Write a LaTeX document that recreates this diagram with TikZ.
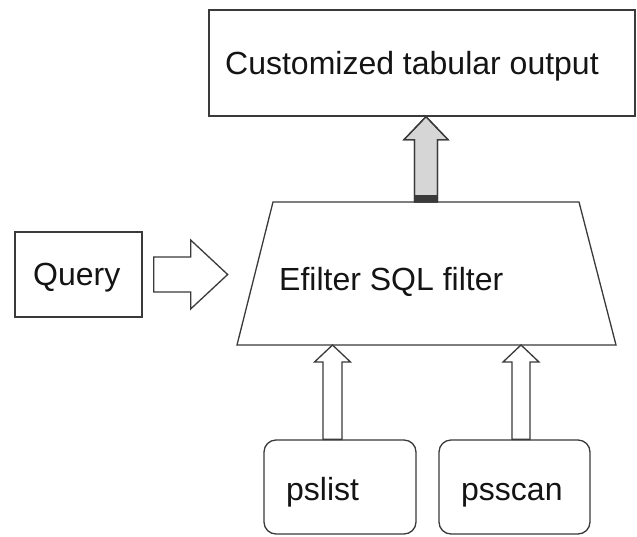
\documentclass[tikz,border=0pt]{standalone}
\usepackage{fontspec}
\setmainfont{Liberation Sans}
\usetikzlibrary{calc}
\definecolor{lineclr}{HTML}{3A3A3A}
\definecolor{txtclr}{HTML}{141414}
\definecolor{arrowfill}{HTML}{D6D6D6}
\newcommand{\upblock}[6]{%
  \draw[#1] let \p1=(#2), \p2=(#3) in
    (\x1,\y1) -- (\x1+#5,\y1-#6) -- (\x1+#4,\y1-#6) -- (\x1+#4,\y2)
    -- (\x1-#4,\y2) -- (\x1-#4,\y1-#6) -- (\x1-#5,\y1-#6) -- cycle;}
\newcommand{\rightblock}[6]{%
  \draw[#1] let \p1=(#2), \p2=(#3) in
    (\x1,\y1) -- (\x1-#6,\y1+#5) -- (\x1-#6,\y1+#4) -- (\x2,\y1+#4)
    -- (\x2,\y1-#4) -- (\x1-#6,\y1-#4) -- (\x1-#6,\y1-#5) -- cycle;}
\begin{document}
\begin{tikzpicture}[x=1pt,y=-1pt,line join=miter,
  shapeline/.style={draw=lineclr,line width=1.3pt},
  boxnode/.style={shapeline,fill=white,inner sep=0pt},
  lbl/.style={anchor=base west,inner sep=0pt,text=txtclr,font=\fontsize{32}{38}\selectfont},
  hollowarrow/.style={shapeline,fill=white},
  grayarrow/.style={shapeline,fill=arrowfill}]
\useasboundingbox (0,0) rectangle (637,536);
\fill[white] (0,0) rectangle (637,536);

% boxes
\node[boxnode,minimum width=426pt,minimum height=106pt] (out) at (422,63) {};
\node[boxnode,minimum width=127pt,minimum height=85pt] (query) at (78.5,274.5) {};
\node[boxnode,rounded corners=12pt,minimum width=152pt,minimum height=94pt] (pslist) at (340,487) {};
\node[boxnode,rounded corners=12pt,minimum width=151pt,minimum height=94pt] (psscan) at (514.5,487) {};

% trapezoid
\coordinate (tl) at (273,202);
\coordinate (tr) at (579,202);
\coordinate (br) at (616,345);
\coordinate (bl) at (237,345);
\draw[shapeline,fill=white] (tl) -- (tr) -- (br) -- (bl) -- cycle;
\coordinate (ttop) at ($(tl)!0.5!(tr)$);

% labels
\node[lbl] (outtxt) at (225,74) {Customized tabular output};
\node[lbl] (querytxt) at (33,285) {Query};
\node[lbl] (filtertxt) at (279,290) {Efilter SQL filter};
\node[lbl] (pslisttxt) at (286,500) {pslist};
\node[lbl] (psscantxt) at (461,500) {psscan};

% gray up arrow: filter -> output
\coordinate (gbase) at (ttop);
\coordinate (gtip) at (out.south -| ttop);
\upblock{grayarrow}{gtip}{gbase}{11.5}{22}{23}
\fill[lineclr] ($(gbase)+(-11.5,-7)$) rectangle ($(gbase)+(11.5,0)$);
\upblock{shapeline}{gtip}{gbase}{11.5}{22}{23}

% query arrow
\coordinate (qbase) at ([xshift=11pt]query.east);
\coordinate (qtip) at ([xshift=85pt]query.east);
\rightblock{hollowarrow}{qtip}{qbase}{17.5}{34.5}{37}

% bottom arrows
\coordinate (pbase) at ([xshift=-7.5pt]pslist.north);
\coordinate (ptip) at (pbase |- bl);
\upblock{hollowarrow}{ptip}{pbase}{9.5}{18}{17}
\coordinate (sbase) at ([xshift=6.5pt]psscan.north);
\coordinate (stip) at (sbase |- bl);
\upblock{hollowarrow}{stip}{sbase}{9}{18}{17}
\end{tikzpicture}
\end{document}
